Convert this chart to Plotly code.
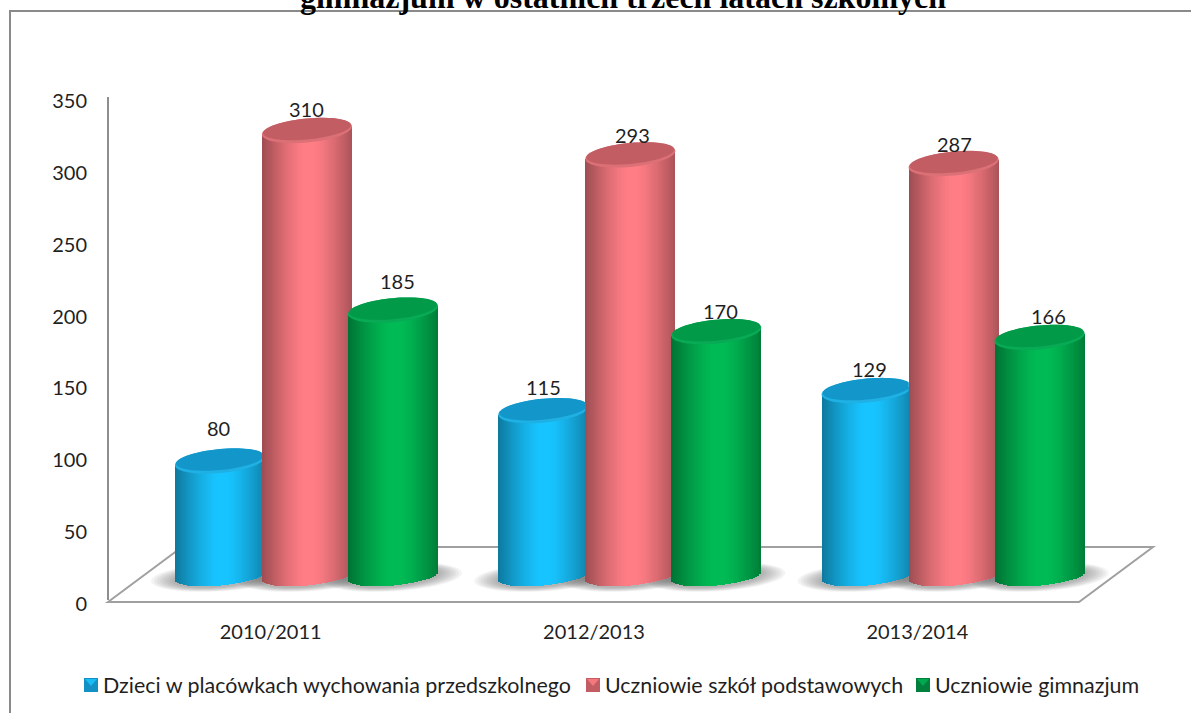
import numpy as np
import plotly.graph_objects as go

# ---- data ----
categories = ["2010/2011", "2012/2013", "2013/2014"]
series_names = ["Dzieci w placówkach wychowania przedszkolnego",
                "Uczniowie szkół podstawowych", "Uczniowie gimnazjum"]
dzieci = [80, 115, 129]
szkoly = [310, 293, 287]
gimnazjum = [185, 170, 166]
series_values = [dzieci, szkoly, gimnazjum]
y_ticks = [0, 50, 100, 150, 200, 250, 300, 350]
title_text = "gimnazjum w ostatnich trzech latach szkolnych"

# ---- style ----
W, H = 1191, 713
L, R, T, B = 109, 1191, 97, 600
PX_X = 970 / 3.0              # px per x unit
PX_Y = (B - T) / 350.0        # px per y unit
DEPTH = 24                    # px the bars stand behind the axis plane
A, BB, K = 45.0, 12.0, 4.0    # cap ellipse half-axes and tilt, px
BB_LOW = 9.5                  # half-height of the curved foot, px
OFFS = [-50.7, 36.3, 122.3]   # bar centre offset from category centre, px
STRIP = 2.0
BODY = [(24, 196, 255), (255, 125, 133), (0, 187, 85)]
CAP = ["#1397CB", "#C25E63", "#009A49"]
RIM = ["#1FB0E4", "#DC7077", "#08AA55"]
LEG = ["#19BDF5", "#F5787F", "#00A94F"]
LEG_DARK = ["#1391C4", "#C25E63", "#00803C"]
LEG_X = [84, 586, 916]        # left edge of each legend swatch, px
LEG_Y = 685
FONT = "Lato"
TXT = "#1f1f1f"
GREY = "#8e8e8e"
LABEL_DX = [[-1, 0, 3], [0, 2, 1], [5, 4, 9]]
LABEL_DY = [[33, 24, 22], [21, 20, 20], [29, 21, 21]]


def xu(px):
    return px / PX_X


def yu(px):
    return px / PX_Y


def paper_x(px):
    return (px - L) / (R - L)


def paper_y(px):
    return (B - px) / (B - T)


def px_path(points, close=True):
    return "M" + "L".join(f"{paper_x(x):.5f},{paper_y(y):.5f}" for x, y in points) + ("Z" if close else "")


def ell_path(cx, cy, a, b, k, limit=None):
    th = np.linspace(0, 2 * np.pi, 73)[:-1]
    xs = cx + xu(a) * np.cos(th)
    ys = cy + yu(b) * np.sin(th) + yu(k) * np.cos(th)
    if limit is not None:
        xs = np.minimum(xs, limit)
    return "M" + "L".join(f"{x:.5f},{y:.3f}" for x, y in zip(xs, ys)) + "Z"


def shade(t):
    return 1 - 0.36 * max(0.0, (abs(t - 0.05) - 0.12) / 0.88) ** 1.3


fig = go.Figure()
shapes = []
annotations = []

# frame and floor in page pixels
shapes.append(dict(type="path", xref="paper", yref="paper",
                   path=px_path([(10, H + 5), (10, 11), (W + 5, 11)], close=False),
                   line=dict(color="#8a8a8a", width=2), layer="below"))
shapes.append(dict(type="path", xref="paper", yref="paper",
                   path=px_path([(108, 602), (182, 547), (1153, 547), (1079, 602)]),
                   fillcolor="white", line=dict(color="#a0a0a0", width=2), layer="below"))

# carries the visible value axis
fig.add_trace(go.Scatter(x=[-0.5] * len(y_ticks), y=y_ticks, mode="markers",
                         marker=dict(opacity=0), showlegend=False, hoverinfo="skip"))

n = len(categories)
for s, vals in enumerate(series_values):
    centers = [i + xu(OFFS[s]) for i in range(n)]
    # soft shadow on the floor
    for i in range(n):
        for grow in [24, 21, 18, 15, 12, 9, 6, 3]:
            shapes.append(dict(type="path", xref="x", yref="y2", layer="below",
                               path=ell_path(centers[i], yu(-1), A + grow, BB_LOW + grow * 0.2, K),
                               fillcolor="rgba(70,70,70,0.06)", line=dict(width=0)))
    # a real bar per value
    fig.add_trace(go.Bar(x=centers, y=vals, width=xu(64), name=series_names[s], yaxis="y2",
                         marker=dict(color=LEG[s], line=dict(width=0)), hoverinfo="skip",
                         showlegend=False, cliponaxis=False))
    # the cylinder shading: narrow bars following the curved base and tilted top
    sx, sy, sb, sc = [], [], [], []
    for i, v in enumerate(vals):
        for t in np.arange(-A + STRIP / 2, A, STRIP) / A:
            f = shade(t)
            low = -BB_LOW * np.sqrt(max(0, 1 - t * t)) + K * t
            top = yu(K * t) + v
            sx.append(centers[i] + xu(t * A))
            sb.append(yu(low))
            sy.append(top - yu(low))
            sc.append("rgb(%d,%d,%d)" % tuple(int(c * f) for c in BODY[s]))
    fig.add_trace(go.Bar(x=sx, y=sy, base=sb, width=xu(STRIP), yaxis="y2", showlegend=False,
                         marker=dict(color=sc, line=dict(width=0)), hoverinfo="skip", cliponaxis=False))
    # caps
    for i, v in enumerate(vals):
        limit = None
        if s < 2 and series_values[s + 1][i] > v:
            limit = i + xu(OFFS[s + 1]) - xu(A)
        shapes.append(dict(type="path", xref="x", yref="y2", layer="above",
                           path=ell_path(centers[i], v, A, BB, K, limit),
                           fillcolor=RIM[s], line=dict(width=0)))
        shapes.append(dict(type="path", xref="x", yref="y2", layer="above",
                           path=ell_path(centers[i], v + yu(1.5), A - 1, BB - 1.5, K, limit),
                           fillcolor=CAP[s], line=dict(width=0)))
        annotations.append(dict(x=centers[i], y=v, xref="x", yref="y2", text=str(v),
                                showarrow=False, xshift=LABEL_DX[s][i], yshift=LABEL_DY[s][i],
                                font=dict(family=FONT, size=20, color=TXT)))
    # legend entry
    lx, ly = LEG_X[s], LEG_Y
    shapes.append(dict(type="path", xref="paper", yref="paper", layer="above",
                       path=px_path([(lx, ly - 7), (lx + 14, ly - 7), (lx + 14, ly + 7), (lx, ly + 7)]),
                       fillcolor=LEG_DARK[s], line=dict(width=0)))
    shapes.append(dict(type="path", xref="paper", yref="paper", layer="above",
                       path=px_path([(lx + 1, ly - 6), (lx + 13, ly - 6), (lx + 7, ly + 1)]),
                       fillcolor=LEG[s], line=dict(width=0)))
    annotations.append(dict(x=paper_x(lx + 17), y=paper_y(ly), xref="paper", yref="paper",
                            xanchor="left", yanchor="middle", text=series_names[s], showarrow=False,
                            font=dict(family=FONT, size=21.45, color=TXT)))

fig.update_layout(
    width=W, height=H, autosize=False,
    margin=dict(l=L, r=W - R, t=T, b=H - B, pad=0),
    paper_bgcolor="white", plot_bgcolor="rgba(0,0,0,0)",
    barmode="overlay", bargap=0, showlegend=False,
    title=dict(text=title_text, x=623 / W, xanchor="center", y=0.989, yanchor="bottom",
               yref="container",
               font=dict(family="Liberation Serif", size=32, color="black", weight="bold")),
    xaxis=dict(range=[-0.5, -0.5 + (R - L) / PX_X], tickvals=list(range(n)), ticktext=categories,
               showgrid=False, zeroline=False, showline=False,
               ticks="", ticklabelstandoff=18, tickfont=dict(family=FONT, size=20, color=TXT)),
    yaxis=dict(range=[0, 350], tickvals=y_ticks, showgrid=False, zeroline=False,
               showline=True, linecolor=GREY, linewidth=2, ticks="",
               ticklabelstandoff=16, ticklabelshift=4, tickfont=dict(family=FONT, size=20, color=TXT)),
    yaxis2=dict(range=[-yu(DEPTH), 350 - yu(DEPTH)], overlaying="y", visible=False),
    shapes=shapes, annotations=annotations,
)

fig.write_html("out.html", config={"displayModeBar": False},
               post_script="document.body.style.margin='0';document.documentElement.style.overflow='hidden';")
